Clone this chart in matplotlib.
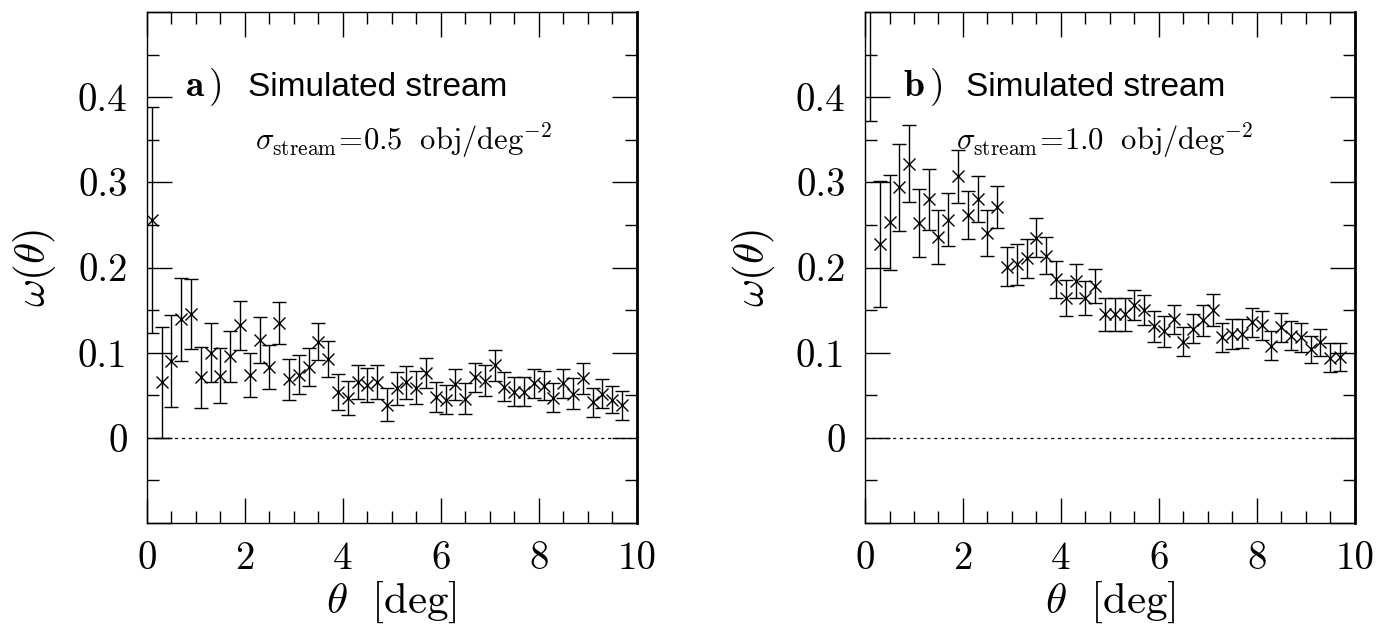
import matplotlib
matplotlib.use("Agg")
import matplotlib.pyplot as plt
from matplotlib.ticker import MultipleLocator

plt.rcParams['mathtext.fontset'] = 'cm'
plt.rcParams['font.family'] = 'serif'
plt.rcParams['font.serif'] = ['cmr10', 'DejaVu Serif']
plt.rcParams['axes.unicode_minus'] = False

# angular separation bins [deg]
theta = [0.1, 0.3, 0.5, 0.7, 0.9, 1.1, 1.3, 1.5, 1.7, 1.9,
         2.1, 2.3, 2.5, 2.7, 2.9, 3.1, 3.3, 3.5, 3.7, 3.9,
         4.1, 4.3, 4.5, 4.7, 4.9, 5.1, 5.3, 5.5, 5.7, 5.9,
         6.1, 6.3, 6.5, 6.7, 6.9, 7.1, 7.3, 7.5, 7.7, 7.9,
         8.1, 8.3, 8.5, 8.7, 8.9, 9.1, 9.3, 9.5, 9.7]

# panel a: sigma_stream = 0.5
w_a = [0.256, 0.065, 0.090, 0.139, 0.145, 0.071, 0.100, 0.073, 0.096, 0.132,
       0.074, 0.115, 0.083, 0.135, 0.069, 0.074, 0.083, 0.113, 0.093, 0.054,
       0.047, 0.066, 0.062, 0.066, 0.039, 0.058, 0.065, 0.059, 0.076, 0.048,
       0.045, 0.063, 0.046, 0.071, 0.067, 0.085, 0.060, 0.054, 0.054, 0.064,
       0.061, 0.047, 0.064, 0.052, 0.070, 0.042, 0.052, 0.045, 0.038]
err_a = [0.133, 0.065, 0.054, 0.049, 0.041, 0.036, 0.035, 0.032, 0.030, 0.029,
         0.026, 0.027, 0.026, 0.025, 0.024, 0.023, 0.022, 0.022, 0.021, 0.021,
         0.020, 0.020, 0.020, 0.020, 0.019, 0.019, 0.019, 0.019, 0.018, 0.018,
         0.017, 0.018, 0.018, 0.017, 0.018, 0.018, 0.017, 0.017, 0.017, 0.017,
         0.017, 0.017, 0.017, 0.018, 0.018, 0.017, 0.017, 0.016, 0.017]

# panel b: sigma_stream = 1.0 (first bin is off the top of the plot)
w_b = [0.620, 0.228, 0.253, 0.294, 0.322, 0.252, 0.280, 0.236, 0.256, 0.307,
       0.262, 0.280, 0.240, 0.271, 0.201, 0.204, 0.211, 0.235, 0.214, 0.186,
       0.164, 0.184, 0.164, 0.178, 0.145, 0.145, 0.145, 0.156, 0.150, 0.131,
       0.125, 0.139, 0.113, 0.128, 0.138, 0.150, 0.118, 0.122, 0.122, 0.136,
       0.132, 0.108, 0.130, 0.120, 0.118, 0.104, 0.112, 0.094, 0.095]
err_b = [0.248, 0.074, 0.056, 0.051, 0.045, 0.040, 0.036, 0.032, 0.031, 0.031,
         0.028, 0.027, 0.027, 0.025, 0.023, 0.024, 0.023, 0.023, 0.022, 0.022,
         0.021, 0.020, 0.020, 0.020, 0.019, 0.019, 0.019, 0.018, 0.018, 0.018,
         0.018, 0.017, 0.017, 0.017, 0.018, 0.019, 0.017, 0.018, 0.017, 0.017,
         0.017, 0.017, 0.017, 0.017, 0.017, 0.016, 0.016, 0.017, 0.016]

xticks = [0, 2, 4, 6, 8, 10]
xticklabels = ['0', '2', '4', '6', '8', '10']
yticks = [-0.1, 0, 0.1, 0.2, 0.3, 0.4, 0.5]
yticklabels = ['', '0', '0.1', '0.2', '0.3', '0.4', '']

panels = [
    ('a', w_a, err_a, '0.5', 2.2),
    ('b', w_b, err_b, '1.0', 1.85),
]

fig = plt.figure(figsize=(13.93, 6.26), dpi=100)
lefts = [0.1055, 0.621]

for left, (tag, w, err, sig, sx) in zip(lefts, panels):
    ax = fig.add_axes([left, 0.1645, 0.3515, 0.8163])
    ax.errorbar(theta, w, yerr=err, fmt='x', color='black', ms=8, mew=1.0,
                elinewidth=1.0, capsize=5, capthick=1.0)
    ax.plot([0, 10], [0, 0], color='black', lw=0.9, ls=(0, (2.5, 3)))

    ax.set_xlim(0, 10)
    ax.set_ylim(-0.1, 0.5)
    ax.set_xticks(xticks)
    ax.set_xticklabels(xticklabels)
    ax.set_yticks(yticks)
    ax.set_yticklabels(yticklabels)
    ax.xaxis.set_minor_locator(MultipleLocator(0.5))
    ax.yaxis.set_minor_locator(MultipleLocator(0.05))
    ax.tick_params(which='both', direction='in', top=True, right=True,
                   labelsize=28, width=1.0)
    ax.tick_params(axis='x', which='major', length=18, pad=13)
    ax.tick_params(axis='y', which='major', length=18, pad=14)
    ax.tick_params(which='minor', length=8.5)
    for side in ['left', 'top', 'bottom']:
        ax.spines[side].set_linewidth(1.0)
    ax.spines['right'].set_linewidth(2.0)

    ax.set_xlabel(r'$\theta\ \ [{\rm deg}]$', fontsize=31, labelpad=2)
    ax.set_ylabel(r'$\omega(\theta)$', fontsize=31, labelpad=14)

    ax.text(0.78, 0.401, r'$\mathbf{' + tag + r'}\,\mathbf{)}$', fontsize=27,
            va='baseline', ha='left')
    ax.text(2.06, 0.401, 'Simulated stream', fontsize=24,
            family='Liberation Sans', va='baseline', ha='left')
    ax.text(sx, 0.337,
            r'$\sigma_{\rm stream}\!=\!' + sig + r'\ \ {\rm obj/deg^{-2}}$',
            fontsize=22, va='baseline', ha='left')

fig.savefig('out.png', dpi=100)
